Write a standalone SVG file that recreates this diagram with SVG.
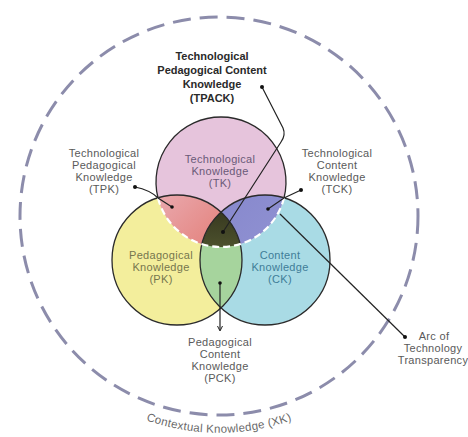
<svg xmlns="http://www.w3.org/2000/svg" width="468" height="437" viewBox="0 0 468 437">
<style>
.lbl{font-family:"Liberation Sans",Arial,sans-serif;font-size:11px;fill:#5a5a5a;text-anchor:middle;letter-spacing:0.3px}
.title{font-family:"Liberation Sans",Arial,sans-serif;font-size:11px;font-weight:bold;fill:#2a2a2a;text-anchor:middle}
.in{font-family:"Liberation Sans",Arial,sans-serif;font-size:11px;text-anchor:middle;letter-spacing:0.3px}
.edge{fill:none;stroke:#222;stroke-width:1.2}
.ring{fill:none;stroke:#2a2a2a;stroke-width:1.3}
.dot{fill:#111}
</style>
<defs>
<clipPath id="cTK"><circle cx="221" cy="182" r="65"/></clipPath>
<clipPath id="cPK"><circle cx="177" cy="260" r="65"/></clipPath>
<clipPath id="cCK"><circle cx="265" cy="260" r="65"/></clipPath>
<linearGradient id="gRed" x1="0" y1="0" x2="1" y2="1">
<stop offset="0" stop-color="#ecb9c3"/><stop offset="0.5" stop-color="#e58b88"/><stop offset="1" stop-color="#df7a76"/>
</linearGradient>
<linearGradient id="gBlue" x1="0" y1="0" x2="1" y2="1">
<stop offset="0" stop-color="#8586cc"/><stop offset="0.7" stop-color="#9496d4"/><stop offset="1" stop-color="#b9bce6"/>
</linearGradient>
<linearGradient id="gMid" x1="0" y1="0" x2="0" y2="1">
<stop offset="0" stop-color="#2e2e18"/><stop offset="0.6" stop-color="#5b6238"/><stop offset="1" stop-color="#8e9c66"/>
</linearGradient>
<path id="arcText" d="M79.5,382 A217,217 0 0 0 358.5,382"/>
</defs>
<rect width="468" height="437" fill="#ffffff"/>

<g id="context">
<circle cx="219" cy="216" r="199" fill="none" stroke="#8c8cab" stroke-width="3" stroke-dasharray="18 9"/>
<text font-family="'Liberation Sans',Arial,sans-serif" font-size="11.5" letter-spacing="0.3" fill="#6a6a6a"><textPath href="#arcText" startOffset="50%" text-anchor="middle">Contextual Knowledge (XK)</textPath></text>
</g>

<g id="pk"><circle cx="177" cy="260" r="65" fill="#f3ee9c"/></g>
<g id="ck"><circle cx="265" cy="260" r="65" fill="#a9dbe5"/></g>
<g id="tk"><circle cx="221" cy="182" r="65" fill="#e6c4dc"/></g>

<g id="tpk-region" clip-path="url(#cTK)"><circle cx="177" cy="260" r="65" fill="url(#gRed)"/></g>
<g id="tck-region" clip-path="url(#cTK)"><circle cx="265" cy="260" r="65" fill="url(#gBlue)"/></g>
<g id="pck-region" clip-path="url(#cPK)"><circle cx="265" cy="260" r="65" fill="#a6d49d"/></g>
<g id="tpack-region" clip-path="url(#cTK)"><g clip-path="url(#cPK)"><circle cx="265" cy="260" r="65" fill="url(#gMid)"/></g></g>

<g id="outlines">
<circle class="ring" cx="177" cy="260" r="65"/>
<circle class="ring" cx="265" cy="260" r="65"/>
<path class="ring" d="M158,198 A65,65 0 1 1 284,198"/>
<path d="M158,198 A65,65 0 0 0 284,198" fill="none" stroke="#ffffff" stroke-width="2.2" stroke-dasharray="7 4"/>
</g>

<g id="connectors">
<path class="edge" d="M262,87 L283,128 Q286,135 281,142 L223,232"/>
<path class="edge" d="M135,187 Q150,190 158,198 L172,207"/>
<path class="edge" d="M301,190 L284,198 L268,209"/>
<path class="edge" d="M220,283 L220,330"/>
<path class="edge" d="M280,214 L405,337"/>
<circle class="dot" cx="262" cy="87" r="2"/>
<circle class="dot" cx="223" cy="232" r="2"/>
<circle class="dot" cx="135" cy="187" r="2"/>
<circle class="dot" cx="172" cy="207" r="1.8"/>
<circle class="dot" cx="301" cy="190" r="2"/>
<circle class="dot" cx="268" cy="209" r="1.8"/>
<circle class="dot" cx="220" cy="283" r="1.8"/>
<path d="M217.5,326 L220,331 L222.5,326" fill="none" stroke="#222" stroke-width="1"/>
<circle class="dot" cx="405" cy="337" r="2"/>
</g>

<g id="tpack-label">
<text class="title" x="212" y="60">Technological</text>
<text class="title" x="212" y="74">Pedagogical Content</text>
<text class="title" x="212" y="88">Knowledge</text>
<text class="title" x="212" y="102">(TPACK)</text>
</g>
<g id="tpk-label">
<text class="lbl" x="104" y="157">Technological</text>
<text class="lbl" x="104" y="169">Pedagogical</text>
<text class="lbl" x="104" y="181">Knowledge</text>
<text class="lbl" x="104" y="193">(TPK)</text>
</g>
<g id="tck-label">
<text class="lbl" x="337" y="157">Technological</text>
<text class="lbl" x="337" y="169">Content</text>
<text class="lbl" x="337" y="181">Knowledge</text>
<text class="lbl" x="337" y="193">(TCK)</text>
</g>
<g id="tk-label">
<text class="in" fill="#6a5a78" x="220" y="163">Technological</text>
<text class="in" fill="#6a5a78" x="220" y="175">Knowledge</text>
<text class="in" fill="#6a5a78" x="220" y="187">(TK)</text>
</g>
<g id="pk-label">
<text class="in" fill="#76764e" x="161" y="259">Pedagogical</text>
<text class="in" fill="#76764e" x="161" y="271">Knowledge</text>
<text class="in" fill="#76764e" x="161" y="283">(PK)</text>
</g>
<g id="ck-label">
<text class="in" fill="#3f7d98" x="280" y="259">Content</text>
<text class="in" fill="#3f7d98" x="280" y="271">Knowledge</text>
<text class="in" fill="#3f7d98" x="280" y="283">(CK)</text>
</g>
<g id="pck-label">
<text class="lbl" x="220" y="346">Pedagogical</text>
<text class="lbl" x="220" y="358">Content</text>
<text class="lbl" x="220" y="370">Knowledge</text>
<text class="lbl" x="220" y="382">(PCK)</text>
</g>
<g id="arc-label">
<text class="lbl" x="434" y="340">Arc of</text>
<text class="lbl" x="433" y="352">Technology</text>
<text class="lbl" x="433" y="364">Transparency</text>
</g>
</svg>
